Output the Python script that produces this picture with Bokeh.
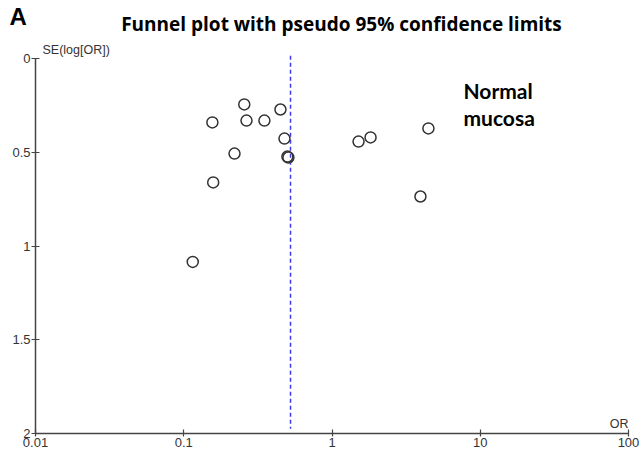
import math

from bokeh.plotting import figure
from bokeh.models import (Range1d, Label, FixedTicker, ColumnDataSource,
                          LogAxis, LinearAxis, Grid)
from bokeh.embed import file_html
from bokeh.resources import INLINE

# Study-level odds ratios and their standard errors of log(OR)
odds_ratio = [0.256, 0.156, 0.265, 0.350, 0.449, 0.478, 0.500, 0.508,
              0.220, 0.158, 0.115, 1.51, 1.82, 4.47, 3.95]
se_log_or = [0.245, 0.341, 0.331, 0.331, 0.272, 0.427, 0.523, 0.528,
             0.507, 0.661, 1.085, 0.443, 0.421, 0.373, 0.736]

# Pooled (fixed-effect) odds ratio
pooled_or = 0.525

x_ticks = [0.01, 0.1, 1, 10, 100]
x_tick_labels = ["0.01", "0.1", "1", "10", "100"]
y_ticks = [0, 0.5, 1, 1.5, 2]
y_tick_labels = ["0", "0.5", "1", "1.5", "2"]

# Canvas and axis-box geometry (pixels)
W, H = 640, 458
AX_LEFT, AX_RIGHT = 35, 628      # where OR = 0.01 and OR = 100 sit
AX_TOP, AX_BOTTOM = 58, 433      # where SE = 0 and SE = 2 sit

x_lo, x_hi = math.log10(x_ticks[0]), math.log10(x_ticks[-1])
px_per_decade = (AX_RIGHT - AX_LEFT) / (x_hi - x_lo)
x_start = 10 ** (x_lo - AX_LEFT / px_per_decade)
x_end = 10 ** (x_hi + (W - AX_RIGHT) / px_per_decade)

y_lo, y_hi = y_ticks[0], y_ticks[-1]
px_per_unit = (AX_BOTTOM - AX_TOP) / (y_hi - y_lo)
y_top = y_lo - AX_TOP / px_per_unit
y_bottom = y_hi + (H - AX_BOTTOM) / px_per_unit

# The plotting frame fills the whole canvas; axes are pinned inside it so
# the title and axis captions can be drawn around the axis box.
p = figure(width=W, height=H,
           x_axis_type="log", y_axis_type="linear",
           x_range=Range1d(x_start, x_end),
           y_range=Range1d(y_bottom, y_top),
           x_axis_location=None, y_axis_location=None,
           output_backend="svg", toolbar_location=None,
           min_border=0)
p.outline_line_color = None
p.background_fill_color = "white"
p.border_fill_color = "white"
for g in p.select(type=Grid):
    g.visible = False

tick_font = "Liberation Sans"

xaxis = LogAxis(fixed_location=y_hi, bounds=(x_ticks[0], x_ticks[-1]),
                ticker=FixedTicker(ticks=x_ticks),
                major_label_overrides=dict(zip(x_ticks, x_tick_labels)))
xaxis.major_tick_in = 4
xaxis.major_tick_out = 3
xaxis.major_label_standoff = 1

yaxis = LinearAxis(fixed_location=x_ticks[0], bounds=(y_lo, y_hi),
                   ticker=FixedTicker(ticks=y_ticks),
                   major_label_overrides=dict(zip(y_ticks, y_tick_labels)))
yaxis.major_tick_in = 4
yaxis.major_tick_out = 4
yaxis.major_label_standoff = 1

for ax in (xaxis, yaxis):
    ax.axis_line_color = "#444444"
    ax.axis_line_width = 1.5
    ax.major_tick_line_color = "#444444"
    ax.major_tick_line_width = 1.2
    ax.minor_tick_line_color = None
    ax.major_label_text_font = tick_font
    ax.major_label_text_font_size = "13px"
    ax.major_label_text_color = "#333333"

p.add_layout(xaxis, "below")
p.add_layout(yaxis, "left")

# Dashed vertical line at the pooled estimate
p.segment(x0=[pooled_or], y0=[-0.015], x1=[pooled_or], y1=[1.975],
          line_color="#3b3bea", line_width=1.5, line_dash="4 3")

src = ColumnDataSource(dict(or_=odds_ratio, se=se_log_or))
p.scatter("or_", "se", source=src, size=11, marker="circle",
          fill_color=None, line_color="#333333", line_width=1.5)


def caption(text, x, y_from_top, **kw):
    """Place text in canvas pixels (y measured from the top edge)."""
    p.add_layout(Label(x=x, y=H - y_from_top, x_units="screen",
                       y_units="screen", text=text, **kw))


caption("A", 9, 29, text_font="Liberation Sans", text_font_style="bold",
        text_font_size="24px", text_color="black")
caption("Funnel plot with pseudo 95% confidence limits", 341, 36,
        text_align="center", text_font="Open Sans", text_font_style="bold",
        text_font_size="19px", text_color="black")
caption("Normal", 463, 102, text_font="Lato", text_font_style="bold",
        text_font_size="21px", text_color="black")
caption("mucosa", 463, 129, text_font="Lato", text_font_style="bold",
        text_font_size="21px", text_color="black")
caption("SE(log[OR])", 42, 56, text_font=tick_font,
        text_font_size="12.5px", text_color="#333333")
caption("OR", 628, 430, text_align="right", text_font=tick_font,
        text_font_size="12.5px", text_color="#333333")

open("out.html", "w").write(file_html(p, INLINE))
